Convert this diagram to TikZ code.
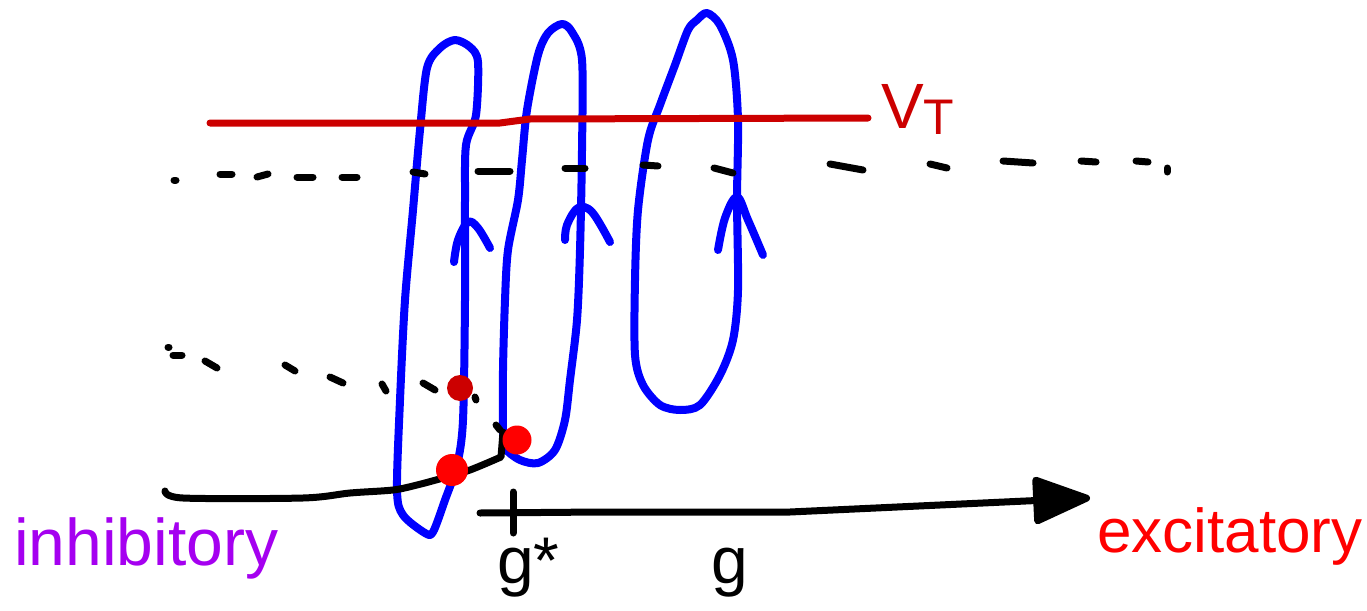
\documentclass[tikz,border=0pt]{standalone}
\definecolor{SketchBlue}{RGB}{0,0,255}
\definecolor{SketchRed}{RGB}{255,0,0}
\definecolor{SketchDark}{RGB}{204,0,0}
\definecolor{SketchPurple}{RGB}{165,0,240}
\usepackage{fontspec}
\setmainfont{Liberation Sans}
\usepackage{tikz}
\usetikzlibrary{arrows.meta}

\begin{document}
\begin{tikzpicture}[x=1pt, y=-1pt,
    loopline/.style={draw=SketchBlue, line width=8pt, line cap=round, line join=round},
    ink/.style={black, line width=7pt, line cap=round, line join=round},
    axisarr/.style={ink, -{Triangle[length=63pt, width=49pt, round]}},
    lbl/.style={inner sep=0pt, anchor=base west}
  ]
    \useasboundingbox (0,0) rectangle (1367,610);

    % Orbits
    \draw[loopline] plot[smooth cycle, tension=0.5] coordinates {
      (463,420) (465,300) (465,200) (466,145) (476,115) (478,62) (470,47)
      (455,40) (440,48) (427,68) (420,130) (413,210) (405,300) (400,400)
      (397,490) (403,515) (425,533) (433,532) (445,500) (457,465)};
    \draw[loopline] plot[smooth cycle, tension=0.5] coordinates {
      (503,430) (503,370) (505,300) (508,250) (518,200) (522,160) (527,110)
      (538,55) (548,33) (562,24) (572,32) (582,60) (582,150) (580,250)
      (577,320) (570,380) (565,420) (555,450) (538,463) (520,460) (505,448)};
    \draw[loopline] plot[smooth cycle, tension=0.5] coordinates {
      (737,200) (738,120) (733,60) (720,25) (707,13) (697,20) (688,30)
      (675,65) (660,105) (648,140) (638,210) (635,280) (635,355) (643,385)
      (660,405) (680,410) (700,405) (720,375) (733,340) (738,290)};

    % Direction marks
    \draw[loopline] plot[smooth, tension=0.6] coordinates {(454,262) (458,240) (468,222) (478,228) (490,248)};
    \draw[loopline] plot[smooth, tension=0.6] coordinates {(565,240) (567,225) (578,208) (592,212) (610,242)};
    \draw[loopline] plot[smooth, tension=0.6] coordinates {(718,250) (725,218) (737,197) (748,220) (763,255)};

    % Threshold
    \draw[SketchDark, line width=7pt, line cap=round, line join=round]
      (210,123) -- (500,123) -- (530,119) -- (868,118);
    \node[lbl, text=SketchDark, font=\fontsize{64}{64}\selectfont] (vt) at (881,128)
      {V\raisebox{-6pt}{\fontsize{50}{50}\selectfont T}};

    % Dashed branches
    \foreach \xa/\ya/\xb/\yb in {174/180/176/180, 220/174/232/174, 257/177/268/174,
                       297/177/313/177, 342/177/357/177, 413/172/425/174,
                       478/171/510/171, 565/168/585/168, 643/165/658/166,
                       714/168/733/173, 830/164/863/170, 930/164/947/168,
                       1003/161/1033/163, 1081/161/1096/162, 1136/161/1148/162,
                       1167/168/1167/172}
      \draw[ink] (\xa,\ya) -- (\xb,\yb);
    \foreach \xa/\ya/\xb/\yb in {168/347/169/347, 173/355/182/355, 205/361/217/368,
                       285/365/295/371, 330/377/343/383, 382/384/386/391,
                       423/383/435/390, 475/397/476/400, 496/425/500/430}
      \draw[ink] (\xa,\ya) -- (\xb,\yb);

    % Stable branch
    \draw[ink] plot[smooth, tension=0.5] coordinates {
      (165,491) (183,498) (303,498) (350,493) (393,490) (417,485)
      (443,478) (470,470) (501,457)} -- (503,432);

    % Axis
    \coordinate (axstart) at (480,513);
    \coordinate (axend) at (1090,498);
    \draw[axisarr] (axstart) -- (600,512) -- (790,512) -- (axend);
    \draw[ink] (513,492) -- (513,533);
    \node[lbl, font=\fontsize{66}{66}\selectfont] (gstar) at (497,583) {g*};
    \node[lbl, font=\fontsize{66}{66}\selectfont] (gval) at (711,583) {g};

    % Fixed points
    \fill[SketchDark] (460,388) circle[radius=13pt];
    \fill[SketchRed] (452,470) circle[radius=16pt];
    \fill[SketchRed] (517,440) circle[radius=14.5pt];

    % Ends of axis
    \node[lbl, text=SketchPurple, font=\fontsize{66}{66}\selectfont] (inh) at (14,565)
      {inhibitory};
    \node[lbl, text=SketchRed, font=\fontsize{62}{62}\selectfont] (exc) at (1097,552)
      {excitatory};
  \end{tikzpicture}
\end{document}
